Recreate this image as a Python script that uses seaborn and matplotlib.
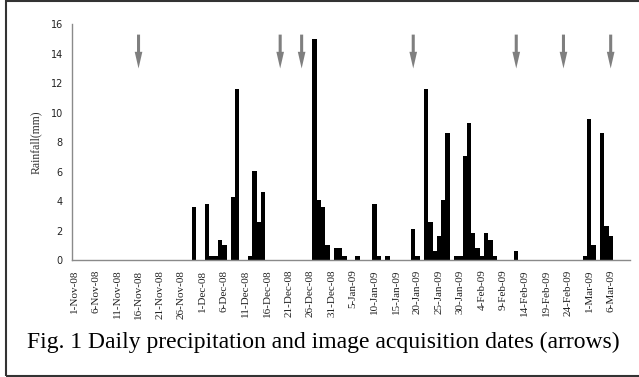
import numpy as np
import pandas as pd
import seaborn as sns
import matplotlib.pyplot as plt
from matplotlib.patches import FancyArrowPatch, Rectangle

# daily rainfall, Nov 2008 - Mar 2009 (days not listed had no rain)
START, END = "2008-11-01", "2009-03-10"

rain_dates = ["2008-11-29", "2008-12-02", "2008-12-03", "2008-12-04", "2008-12-05",
              "2008-12-06", "2008-12-08", "2008-12-09", "2008-12-12", "2008-12-13",
              "2008-12-14", "2008-12-15", "2008-12-27", "2008-12-28", "2008-12-29",
              "2008-12-30", "2009-01-01", "2009-01-02", "2009-01-03", "2009-01-06",
              "2009-01-10", "2009-01-11", "2009-01-13", "2009-01-19", "2009-01-20",
              "2009-01-22", "2009-01-23", "2009-01-24", "2009-01-25", "2009-01-26",
              "2009-01-27", "2009-01-29", "2009-01-30", "2009-01-31", "2009-02-01",
              "2009-02-02", "2009-02-03", "2009-02-04", "2009-02-05", "2009-02-06",
              "2009-02-07", "2009-02-12", "2009-02-28", "2009-03-01", "2009-03-02",
              "2009-03-04", "2009-03-05", "2009-03-06"]
rain_mm = [3.6, 3.8, 0.3, 0.3, 1.35,
           1.05, 4.3, 11.6, 0.3, 6.05,
           2.55, 4.6, 15.0, 4.05, 3.6,
           1.05, 0.8, 0.8, 0.3, 0.3,
           3.8, 0.3, 0.3, 2.1, 0.3,
           11.6, 2.6, 0.6, 1.6, 4.05,
           8.6, 0.3, 0.3, 7.05, 9.3,
           1.8, 0.8, 0.3, 1.8, 1.35,
           0.3, 0.6, 0.3, 9.6, 1.05,
           8.6, 2.3, 1.6]

# image acquisition dates (arrows)
arrow_dates = ["2008-11-16", "2008-12-19", "2008-12-24", "2009-01-19",
               "2009-02-12", "2009-02-23", "2009-03-06"]

y_ticks = [0, 2, 4, 6, 8, 10, 12, 14, 16]
CAPTION = "Fig. 1 Daily precipitation and image acquisition dates (arrows)"


def day_label(d):
    return f"{d.day}-{d.strftime('%b-%y')}"


days = pd.date_range(START, END, freq="D")
labels = [day_label(d) for d in days]
rain = pd.Series(rain_mm, index=pd.to_datetime(rain_dates)).reindex(days, fill_value=0.0)
df = pd.DataFrame({"date": labels, "rain": rain.values})

sns.set_style("white")
plt.rcParams["font.family"] = ["DejaVu Sans"]

fig = plt.figure(figsize=(6.39, 3.77), dpi=100)
ax = fig.add_axes([72 / 639, 1 - 260 / 377, 558 / 639, 235.7 / 377])

sns.barplot(data=df, x="date", y="rain", order=labels, color="black",
            width=1.0, linewidth=0, saturation=1, ax=ax)

ax.set_xlim(-0.5, len(days) - 0.5)
ax.set_ylim(0, 16)
ax.set_yticks(y_ticks)

# labels every 5 days, tick marks on the category boundaries
pos = np.arange(0, len(days), 5)
ax.set_xticks(pos)
ax.set_xticklabels([labels[i] for i in pos], rotation=90,
                   family="Liberation Serif", fontsize=8, color="#222222")
ax.set_xticks(np.arange(-0.5, len(days), 5), minor=True)
ax.tick_params(axis="x", which="major", length=0, pad=7)
ax.tick_params(axis="x", which="minor", length=3, width=0.8, color="#555555", direction="out")
ax.tick_params(axis="y", length=3, width=0.8, color="#555555", direction="out",
               pad=3.5, labelsize=7, labelcolor="#222222")
ax.set_xlabel("")
ax.set_ylabel("Rainfall(mm)", family="Liberation Serif", fontsize=8.5, color="#333333")
ax.yaxis.set_label_coords(-0.054, 0.5)

sns.despine(ax=ax)
for s in ("left", "bottom"):
    ax.spines[s].set_color("#8a8a8a")
    ax.spines[s].set_linewidth(1.0)

for d in arrow_dates:
    i = labels.index(day_label(pd.Timestamp(d)))
    arr = FancyArrowPatch((i, 15.3), (i, 13.0), mutation_scale=1,
                          arrowstyle="simple,head_length=12,head_width=5.5,tail_width=2.2",
                          color="#7f7f7f", linewidth=0, shrinkA=0, shrinkB=0,
                          clip_on=False)
    ax.add_patch(arr)

fig.text(27 / 639, 1 - 348 / 377, CAPTION, family="Liberation Serif",
         fontsize=17, va="baseline", ha="left", color="black")

# frame around the figure, right edge runs off the picture
fig.patches.append(Rectangle((6 / 639, 1 / 377), 1.1, 1 - 2 / 377,
                             transform=fig.transFigure, fill=False,
                             edgecolor="#333333", linewidth=1.5))

fig.savefig("out.png", dpi=100)
